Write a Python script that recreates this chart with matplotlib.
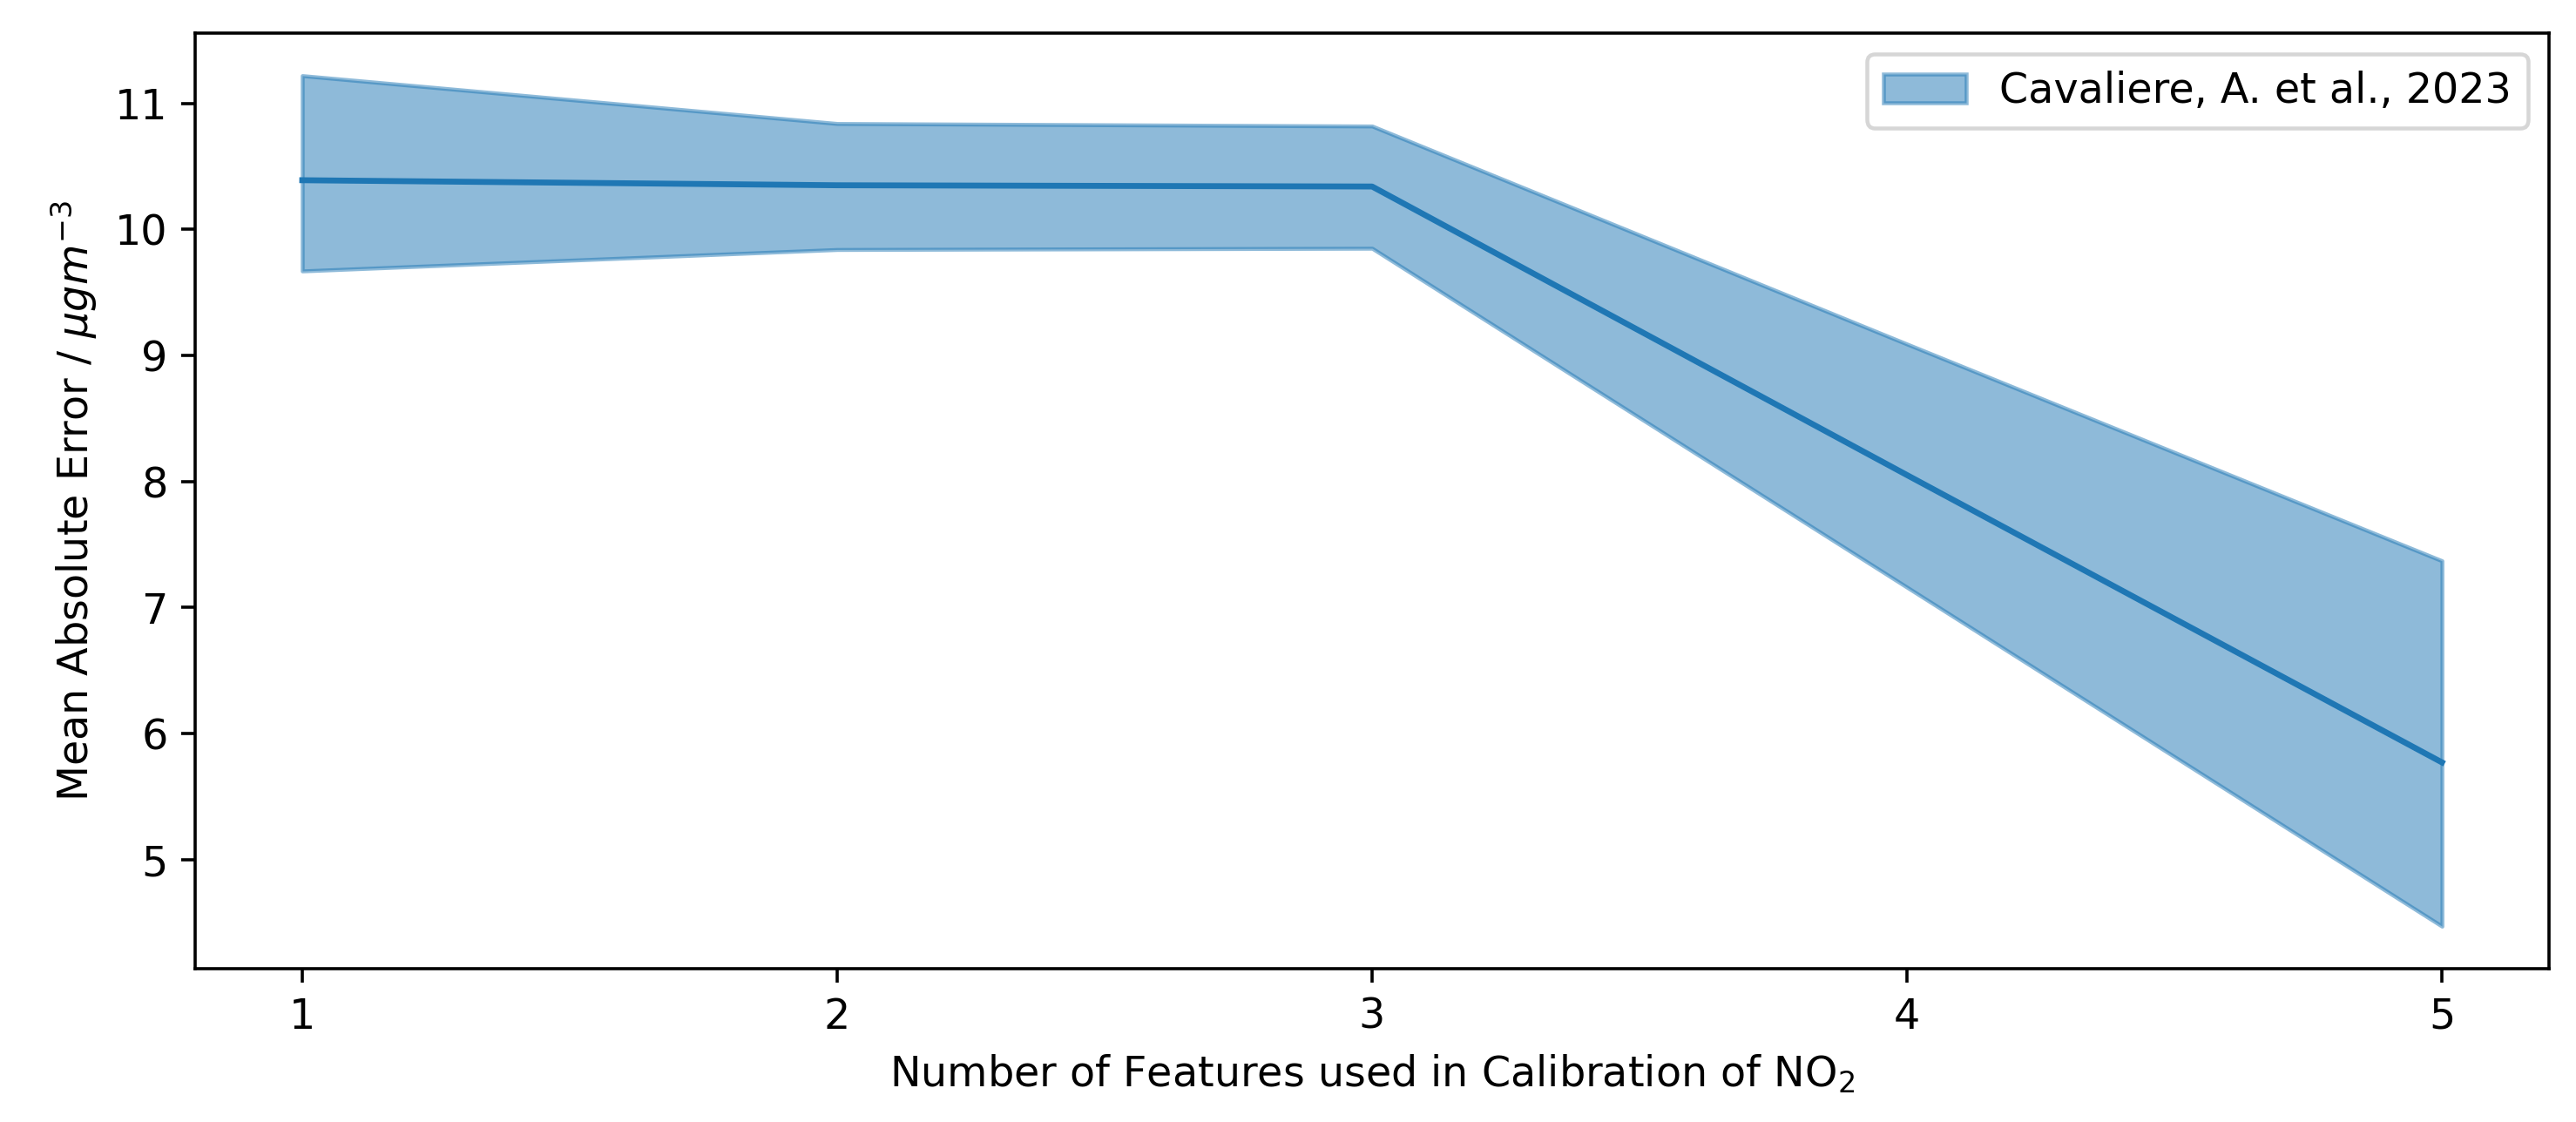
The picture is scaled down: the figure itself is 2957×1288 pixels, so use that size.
import matplotlib
matplotlib.use('Agg')
from matplotlib import pyplot as plt

# values
n_features = [1, 2, 3, 4, 5]
mae_mean = [10.39, 10.35, 10.34, 8.05, 5.77]
mae_upper = [11.22, 10.84, 10.82, 9.09, 7.37]
mae_lower = [9.67, 9.84, 9.85, 7.16, 4.47]
legend_label = 'Cavaliere, A. et al., 2023'

plt.rcParams['font.size'] = 10.6

fig, ax = plt.subplots(figsize=(2957 / 324, 1288 / 324), dpi=324)
fig.subplots_adjust(left=0.0758, right=0.9895, top=0.9705, bottom=0.1366)

ax.plot(n_features, mae_mean, color='C0')
ax.fill_between(n_features, mae_lower, mae_upper, color='C0', alpha=0.5,
                label=legend_label)

ax.set_xticks(n_features)
ax.set_xlabel('Number of Features used in Calibration of NO$_2$')
ax.set_ylabel('Mean Absolute Error / $\\mu g m^{-3}$')
ax.legend(loc='upper right')

fig.savefig('out.png', dpi=324)
